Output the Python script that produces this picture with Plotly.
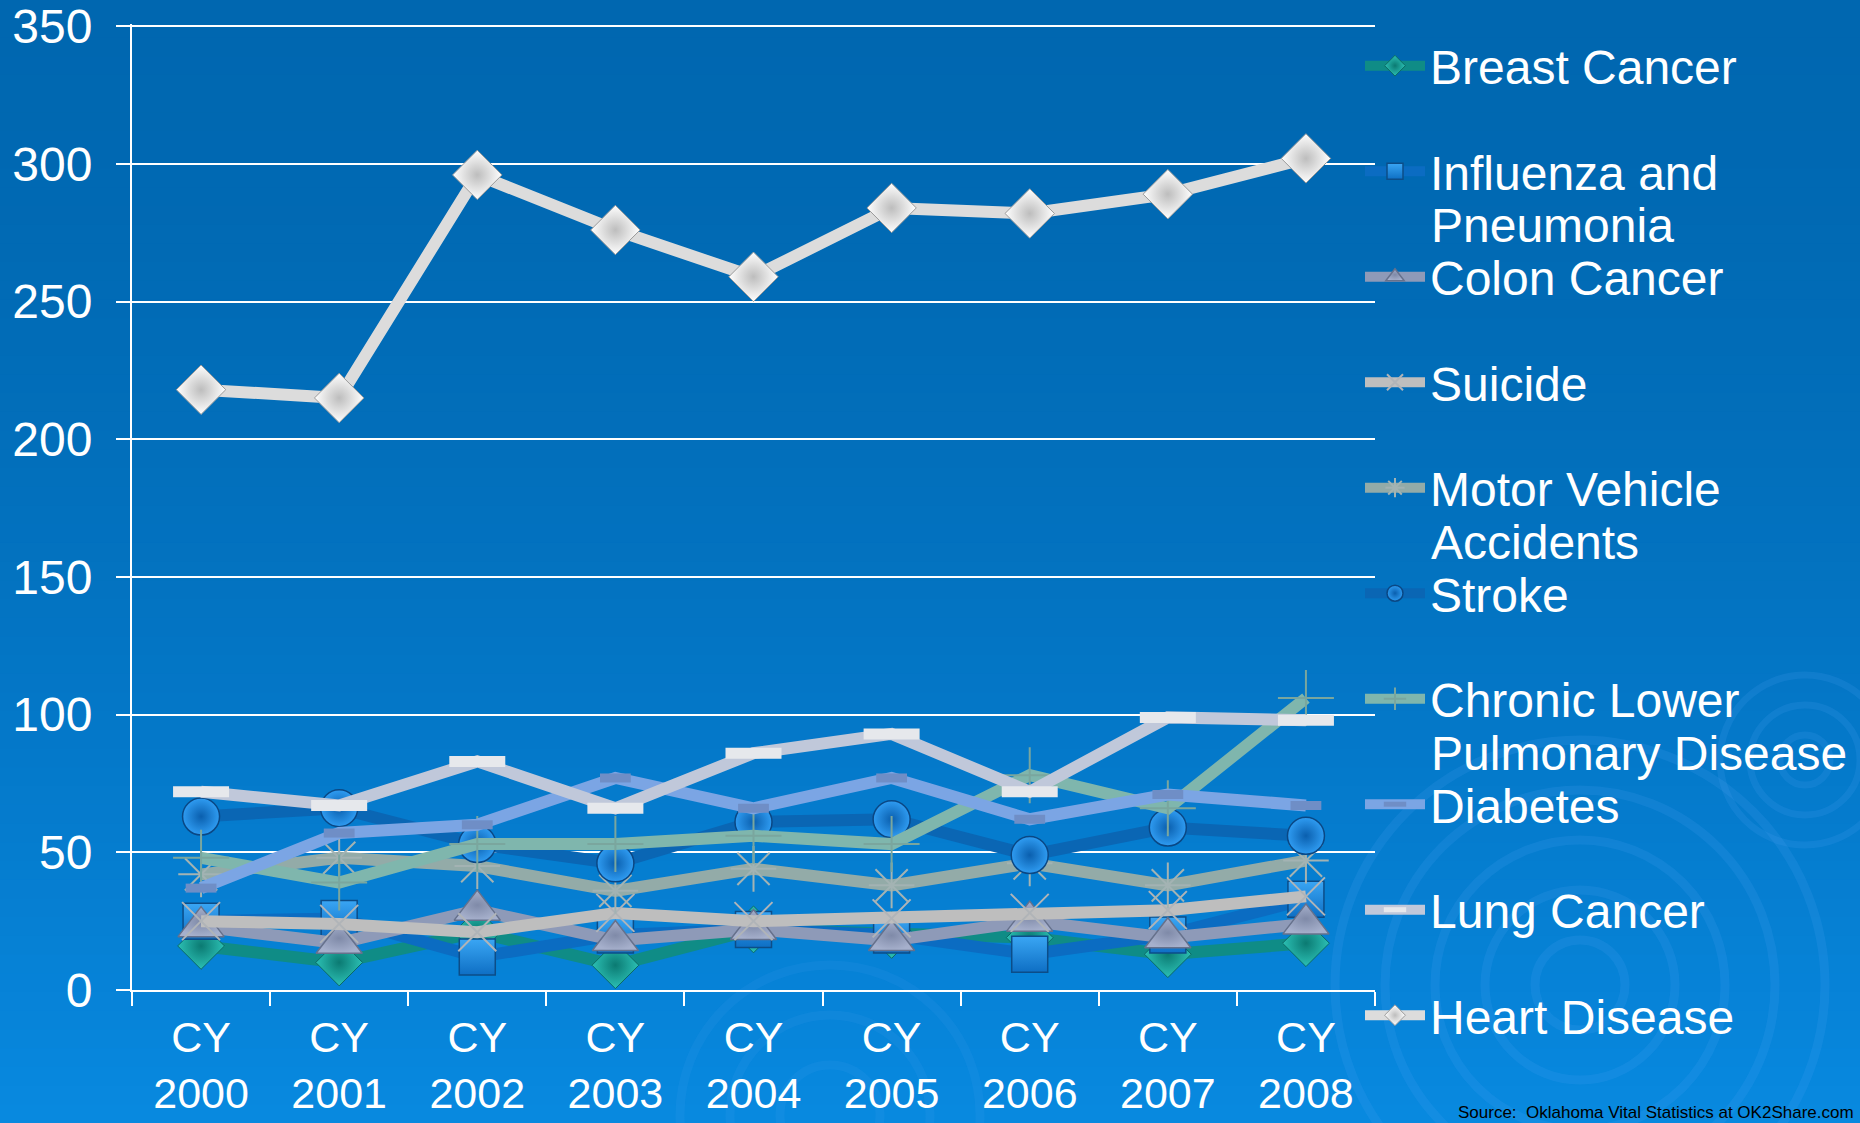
import plotly.graph_objects as go

# categories
years = ["CY<br>2000", "CY<br>2001", "CY<br>2002", "CY<br>2003", "CY<br>2004",
         "CY<br>2005", "CY<br>2006", "CY<br>2007", "CY<br>2008"]

# series values (deaths per year)
breast_cancer = [16, 10, 21, 9, 22, 20, 19, 13, 17]
influenza = [25, 26, 12, 20, 22, 20, 13, 20, 33]
colon_cancer = [23, 17, 29, 18, 22, 18, 25, 19, 24]
suicide = [25, 24, 21, 28, 25, 26, 28, 29, 34]
motor_vehicle = [42, 48, 45, 36, 44, 38, 46, 38, 47]
stroke = [63, 66, 53, 46, 61, 62, 49, 59, 56]
chronic_lower = [48, 39, 53, 53, 56, 53, 78, 66, 106]
diabetes = [37, 57, 60, 77, 66, 77, 62, 71, 67]
lung_cancer = [72, 67, 83, 66, 86, 93, 72, 99, 98]
heart_disease = [218, 215, 296, 276, 259, 284, 282, 289, 302]

y_max = 350

# legend names (first line) and wrapped second lines
names = ["Breast Cancer", "Influenza and", "Colon Cancer", "Suicide", "Motor Vehicle",
         "Stroke", "Chronic Lower", "Diabetes", "Lung Cancer", "Heart Disease"]
second_lines = {1: "Pneumonia", 4: "Accidents", 6: "Pulmonary Disease"}

W, H = 1860, 1123
L, R, T, B = 132, 485, 24, 133
PW, PH = W - L - R, H - T - B
FONT = "Arial, Liberation Sans, sans-serif"
LEG_FS = 48
STEP = 105.5          # px between legend entries
FIRST_Y = 65          # px centre of first legend entry


def px_y(y):
    return 1 - (y - T) / PH


def px_x(x):
    return (x - L) / PW


series = [
    (breast_cancer, "#0f8c86", dict(symbol="diamond", size=36, color="#2cc0b4",
                                    gradient=dict(type="radial", color="#0b7a72"),
                                    line=dict(color="#0b6a64", width=1))),
    (influenza, "#0b6cc2", dict(symbol="square", size=36, color="#3aa6f4",
                                gradient=dict(type="vertical", color="#0e6fc4"),
                                line=dict(color="#0c4d88", width=1.5))),
    (colon_cancer, "#8e9ab8", dict(symbol="triangle-up", size=40, color="#a6b0cc",
                                   gradient=dict(type="radial", color="#7f8aa8"),
                                   line=dict(color="#66718c", width=1.5))),
    (suicide, "#bebebe", dict(symbol="x-thin", size=38,
                              line=dict(color="#b0b4b8", width=2))),
    (motor_vehicle, "#93aba8", dict(symbol="asterisk", size=38,
                                    line=dict(color="#a3b3b3", width=2))),
    (stroke, "#0a66b4", dict(symbol="circle", size=37, color="#2f9cf2",
                             gradient=dict(type="radial", color="#0a5fae"),
                             line=dict(color="#0a4784", width=1.5))),
    (chronic_lower, "#7fb6ad", dict(symbol="cross-thin", size=40,
                                    line=dict(color="#7aa69e", width=2))),
    (diabetes, "#7ba5e4", dict(symbol="line-ew", size=22,
                               line=dict(color="#6f8ec6", width=9))),
    (lung_cancer, "#c0c8da", dict(symbol="line-ew", size=40,
                                  line=dict(color="#e6e8ec", width=11))),
    (heart_disease, "#dcdcdc", dict(symbol="diamond", size=38, color="#ffffff",
                                    gradient=dict(type="radial", color="#bdbdbd"),
                                    line=dict(color="#9a9a9a", width=1))),
]

fig = go.Figure()
for i, (vals, lc, mk) in enumerate(series):
    fig.add_trace(go.Scatter(
        x=years, y=vals, name=names[i], legendgroup=str(i),
        legend="legend" if i < 5 else "legend2",
        mode="lines+markers",
        line=dict(color=lc, width=12),
        marker=mk,
    ))

# blue gradient background
shapes = []
n = 60
top = (0, 103, 176)
bot = (8, 137, 224)
for k in range(n):
    y0 = k * H / n
    y1 = (k + 1) * H / n
    f = ((y0 + y1) / 2 / H) ** 1.6
    c = tuple(int(round(top[j] + (bot[j] - top[j]) * f)) for j in range(3))
    shapes.append(dict(type="rect", xref="paper", yref="paper", layer="below",
                       x0=px_x(-5), x1=px_x(W + 5),
                       y0=px_y(y1 + 1), y1=px_y(y0),
                       fillcolor="rgb(%d,%d,%d)" % c, line=dict(width=0)))


# faint swirl rings
def ring(cx, cy, r, w, a):
    return dict(type="circle", xref="paper", yref="paper", layer="below",
                x0=px_x(cx - r), x1=px_x(cx + r),
                y0=px_y(cy + r), y1=px_y(cy - r),
                line=dict(color="rgba(90,170,245,%.2f)" % a, width=w))


for r in [45, 95, 145, 195, 245]:
    shapes.append(ring(1580, 985, r, 9, 0.15))
for r in [25, 55, 85]:
    shapes.append(ring(1805, 760, r, 7, 0.15))
for r in [50, 100, 150]:
    shapes.append(ring(830, 1115, r, 9, 0.10))

# continuation lines of wrapped legend entries
annotations = []
for idx, txt in second_lines.items():
    yp = FIRST_Y + idx * STEP + 55
    annotations.append(dict(text=txt, xref="paper", yref="paper",
                            x=px_x(1429), y=px_y(yp),
                            xanchor="left", yanchor="middle", showarrow=False,
                            font=dict(family=FONT, size=LEG_FS, color="white")))

annotations.append(dict(text="Source:  Oklahoma Vital Statistics at OK2Share.com",
                        xref="paper", yref="paper",
                        x=px_x(1856), y=px_y(1112),
                        xanchor="right", yanchor="middle", showarrow=False,
                        font=dict(family=FONT, size=17, color="black")))

item_h = LEG_FS * 1.3 + 3
leg_common = dict(
    x=px_x(1360), xanchor="left", yanchor="top",
    bgcolor="rgba(0,0,0,0)",
    font=dict(family=FONT, size=LEG_FS, color="white"),
    tracegroupgap=STEP - item_h,
    itemwidth=60,
    valign="top",
)

fig.update_layout(
    width=W, height=H,
    margin=dict(l=L, r=R, t=T, b=B, autoexpand=False),
    paper_bgcolor="rgb(0,103,176)",
    plot_bgcolor="rgba(0,0,0,0)",
    font=dict(family=FONT, color="white", size=47),
    shapes=shapes,
    annotations=annotations,
    legend=dict(y=px_y(FIRST_Y - 37), **leg_common),
    legend2=dict(y=px_y(FIRST_Y + 5 * STEP - 37), **leg_common),
    xaxis=dict(
        type="category", range=[-0.5, 8.5],
        showgrid=False, showline=True, linecolor="white", linewidth=2,
        ticks="outside", tickson="boundaries", ticklen=14,
        tickcolor="white", tickwidth=2, ticklabelstandoff=8,
        automargin=False,
        tickfont=dict(family=FONT, size=43, color="white"),
    ),
    yaxis=dict(
        range=[0, y_max + 0.8], tickmode="linear", tick0=0, dtick=50,
        showgrid=True, gridcolor="white", gridwidth=2,
        showline=True, linecolor="white", linewidth=2,
        ticks="outside", ticklen=14, tickcolor="white", tickwidth=2,
        ticklabelstandoff=14, zeroline=False, automargin=False,
        tickfont=dict(family=FONT, size=48, color="white"),
    ),
)

fig.write_html("out.html", config={"displayModeBar": False},
               post_script="document.body.style.margin='0px';")
